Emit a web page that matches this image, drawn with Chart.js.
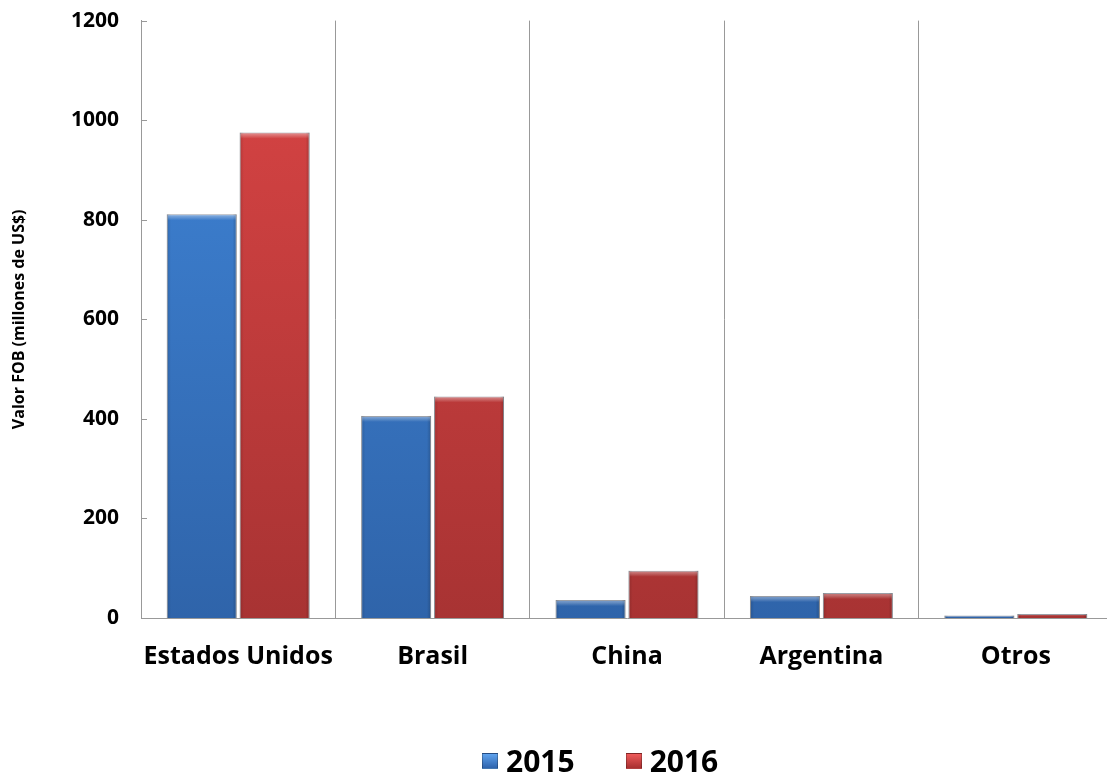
<!DOCTYPE html>
<html>
<head>
<meta charset="utf-8">
<script src="https://cdn.jsdelivr.net/npm/chart.js@4.4.0/dist/chart.umd.min.js"></script>
<style>
    body { margin: 0; background: #fff; overflow: hidden; }
    .wrap { position: relative; width: 1107px; height: 778px; overflow: hidden; }
    #chart-exports { position: absolute; top: -14px; left: 0; }
    .legend {
        position: absolute; top: 741px; left: 482px;
        display: flex; align-items: center; line-height: 40px;
        font-family: "Open Sans", "Noto Sans", sans-serif; font-weight: bold; font-size: 30px; color: #000;
    }
    .legend .box { width: 16px; height: 16px; margin-right: 8px; border: 1px solid rgba(0,0,0,0.25); box-sizing: border-box; }
    .legend .item { display: flex; align-items: center; margin-right: 51px; }
</style>
</head>
<body>
<div class="wrap">
    <canvas id="chart-exports" width="1113" height="792"></canvas>
    <div class="legend">
        <div class="item"><span class="box" style="background: linear-gradient(#5fa3ee, #2e64ad)"></span>2015</div>
        <div class="item"><span class="box" style="background: linear-gradient(#ee5a5a, #a83030)"></span>2016</div>
    </div>
</div>
<script>
const paises = ["Estados Unidos", "Brasil", "China", "Argentina", "Otros"];
const valores2015 = [811, 406, 36, 44, 5];
const valores2016 = [975, 445, 95, 50, 8];
const ticksY = [0, 200, 400, 600, 800, 1000, 1200];

const fontFamily = "'Open Sans', 'Noto Sans', sans-serif";

function barGradient(top, bottom) {
    return (context) => {
        const area = context.chart.chartArea;
        if (!area) return top;
        const g = context.chart.ctx.createLinearGradient(0, area.top, 0, area.bottom);
        g.addColorStop(0, top);
        g.addColorStop(1, bottom);
        return g;
    };
}

// marcas cortas hacia dentro sobre el eje Y
const innerTicksPlugin = {
    id: "innerTicks",
    afterDraw(chart) {
        const ctx = chart.ctx;
        const scale = chart.scales.y;
        ctx.save();
        ctx.strokeStyle = "#999";
        ctx.lineWidth = 1;
        ctx.beginPath();
        scale.ticks.forEach((t) => {
            const y = Math.round(scale.getPixelForValue(t.value)) + 0.5;
            ctx.moveTo(scale.right, y);
            ctx.lineTo(scale.right + 6, y);
        });
        ctx.stroke();
        ctx.restore();
    },
};

// bisel sobre cada barra: bordes laterales oscuros y brillo arriba
const bevelPlugin = {
    id: "bevel",
    afterDatasetsDraw(chart) {
        const ctx = chart.ctx;
        chart.data.datasets.forEach((dataset, i) => {
            const meta = chart.getDatasetMeta(i);
            meta.data.forEach((bar) => {
                const { x, y, base, width } = bar.getProps(["x", "y", "base", "width"], true);
                const left = x - width / 2;
                const h = base - y;
                ctx.save();
                let g = ctx.createLinearGradient(left, 0, left + width, 0);
                g.addColorStop(0, "rgba(0,0,0,0.15)");
                g.addColorStop(0.06, "rgba(0,0,0,0)");
                g.addColorStop(0.94, "rgba(0,0,0,0)");
                g.addColorStop(1, "rgba(0,0,0,0.2)");
                ctx.fillStyle = g;
                ctx.fillRect(left, y, width, h);
                const hh = Math.min(6, h / 2);
                g = ctx.createLinearGradient(0, y, 0, y + hh);
                g.addColorStop(0, "rgba(255,255,255,0.45)");
                g.addColorStop(1, "rgba(255,255,255,0)");
                ctx.fillStyle = g;
                ctx.fillRect(left + 1, y + 1, width - 2, hh);
                ctx.restore();
            });
        });
    },
};

new Chart(document.getElementById("chart-exports"), {
    type: "bar",
    data: {
        labels: paises,
        datasets: [
            {
                label: "2015",
                data: valores2015,
                backgroundColor: barGradient("#4086d9", "#2f64aa"),
                borderColor: "#9a9ea6",
                borderWidth: 1,
                categoryPercentage: 0.75,
                barPercentage: 0.96,
            },
            {
                label: "2016",
                data: valores2016,
                backgroundColor: barGradient("#da4545", "#a83333"),
                borderColor: "#9a9ea6",
                borderWidth: 1,
                categoryPercentage: 0.75,
                barPercentage: 0.96,
            },
        ],
    },
    options: {
        responsive: false,
        animation: false,
        layout: { padding: { top: 8, right: 0, bottom: 82, left: 0 } },
        plugins: {
            legend: { display: false },
            tooltip: { enabled: false },
        },
        scales: {
            y: {
                min: 0,
                max: 1200,
                afterBuildTicks: (scale) => {
                    scale.ticks = ticksY.map((v) => ({ value: v }));
                },
                afterFit: (scale) => {
                    scale.width = 141;
                },
                ticks: {
                    color: "#000",
                    padding: 22,
                    callback: (v) => String(v),
                    font: { family: fontFamily, weight: "bold", size: 21 },
                },
                grid: { display: false, drawTicks: false },
                border: { color: "#999", width: 1 },
                title: {
                    display: true,
                    text: "Valor FOB (millones de US$)",
                    color: "#000",
                    padding: { top: 10, bottom: 0 },
                    font: { family: fontFamily, weight: "bold", size: 16 },
                },
            },
            x: {
                ticks: {
                    color: "#000",
                    padding: 24,
                    maxRotation: 0,
                    minRotation: 0,
                    autoSkip: false,
                    font: { family: fontFamily, weight: "bold", size: 25 },
                },
                grid: {
                    offset: true,
                    color: "#999",
                    lineWidth: 1,
                    drawTicks: false,
                },
                border: { color: "#999", width: 1 },
            },
        },
    },
    plugins: [bevelPlugin, innerTicksPlugin],
});
</script>
</body>
</html>
